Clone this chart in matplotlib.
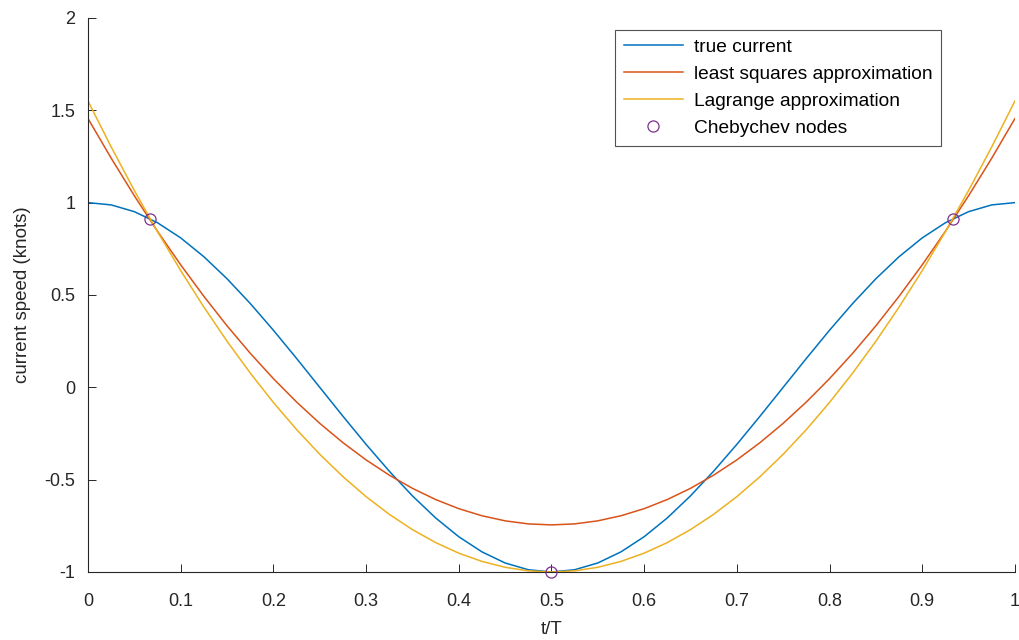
# current speed approximations over one tidal period
import matplotlib.pyplot as plt
import numpy as np

# t/T sample points
t = np.linspace(0, 1, 41)

# values (first half, mirrored for second half)
true_half = [1.0, 0.9877, 0.9511, 0.8910, 0.8090, 0.7071, 0.5878, 0.4540, 0.3090, 0.1564, 0.0,
             -0.1564, -0.3090, -0.4540, -0.5878, -0.7071, -0.8090, -0.8910, -0.9511, -0.9877, -1.0]
lsq_half = [1.455, 1.2405, 1.037, 0.8445, 0.663, 0.4925, 0.333, 0.1845, 0.047, -0.0795, -0.195,
            -0.2995, -0.393, -0.4755, -0.547, -0.6075, -0.657, -0.6955, -0.723, -0.7395, -0.745]
lag_half = [1.55, 1.3014, 1.0655, 0.8424, 0.632, 0.4344, 0.2495, 0.0774, -0.082, -0.2286, -0.3625,
            -0.4836, -0.592, -0.6876, -0.7705, -0.8406, -0.898, -0.9426, -0.9745, -0.9936, -1.0]

true_current = true_half + true_half[-2::-1]
least_squares = lsq_half + lsq_half[-2::-1]
lagrange = lag_half + lag_half[-2::-1]

# chebychev nodes
nodes_t = [0.067, 0.5, 0.933]
nodes_y = [0.9135, -1.0, 0.9135]

plt.rcParams['font.family'] = ['Arial', 'Liberation Sans', 'DejaVu Sans']

fig = plt.figure(figsize=(10.2, 6.4), dpi=100)
ax = fig.add_axes([0.0863, 0.10625, 0.9087, 0.8657])

ax.plot(t, true_current, color="#0072BD", lw=1.1, label="true current")
ax.plot(t, least_squares, color="#D95319", lw=1.1, label="least squares approximation")
ax.plot(t, lagrange, color="#EDB120", lw=1.1, label="Lagrange approximation")
ax.plot(nodes_t, nodes_y, "o", color="#7E2F8E", mfc="none", ms=8, mew=0.9,
        linestyle="none", label="Chebychev nodes", clip_on=False, zorder=5)

ax.set_xlim(0, 1)
ax.set_ylim(-1, 2)
ax.set_xticks(np.arange(0, 1.01, 0.1))
ax.set_xticklabels(["0", "0.1", "0.2", "0.3", "0.4", "0.5", "0.6", "0.7", "0.8", "0.9", "1"])
ax.set_yticks([-1, -0.5, 0, 0.5, 1, 1.5, 2])
ax.set_yticklabels(["-1", "-0.5", "0", "0.5", "1", "1.5", "2"])
ax.tick_params(direction="in", labelsize=13, colors="#262626", length=6, width=0.7)
ax.tick_params(axis="x", pad=15)
ax.tick_params(axis="y", pad=9)
for side in ["top", "right"]:
    ax.spines[side].set_visible(False)
for side in ["left", "bottom"]:
    ax.spines[side].set_color("#262626")
    ax.spines[side].set_linewidth(0.8)

ax.set_xlabel("t/T", fontsize=13.5, color="#262626", labelpad=8)
ax.set_ylabel("current speed (knots)", fontsize=13.5, color="#262626", labelpad=10)

leg = ax.legend(loc="upper left", bbox_to_anchor=(0.5685, 0.978), borderaxespad=0,
                fontsize=13.8, frameon=True, fancybox=False, edgecolor="#262626",
                handlelength=3.1, borderpad=0.45, labelspacing=0.5, handletextpad=0.55)
leg.get_frame().set_linewidth(0.8)

fig.savefig("out.png", dpi=100)
